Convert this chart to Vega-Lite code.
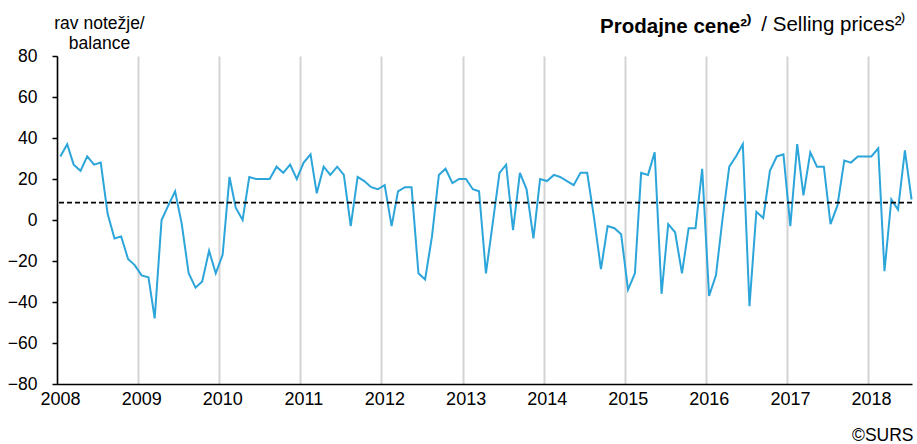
{
  "$schema": "https://vega.github.io/schema/vega-lite/v6.json",
  "width": 855,
  "height": 328,
  "autosize": {"type": "none"},
  "padding": {"left": 57, "top": 56, "right": 5, "bottom": 60},
  "config": {
    "view": {"stroke": null},
    "font": "Liberation Sans",
    "axis": {"labelColor": "black", "titleColor": "black", "labelFont": "Liberation Sans", "titleFont": "Liberation Sans"}
  },
  "title": {
    "text": "Prodajne cene²⁾",
    "anchor": "end",
    "frame": "group",
    "fontSize": 20.5,
    "fontWeight": "bold",
    "color": "black",
    "font": "Liberation Sans",
    "dx": -160,
    "offset": -39,
    "baseline": "alphabetic"
  },
  "layer": [
    {
      "data": {
        "values": [
          {"date": "2008-01-16", "value": 31}, {"date": "2008-02-16", "value": 37}, {"date": "2008-03-16", "value": 27}, {"date": "2008-04-16", "value": 24}, {"date": "2008-05-16", "value": 31}, {"date": "2008-06-16", "value": 27}, {"date": "2008-07-16", "value": 28}, {"date": "2008-08-16", "value": 3}, {"date": "2008-09-16", "value": -9}, {"date": "2008-10-16", "value": -8}, {"date": "2008-11-16", "value": -19}, {"date": "2008-12-16", "value": -22},
          {"date": "2009-01-16", "value": -27}, {"date": "2009-02-16", "value": -28}, {"date": "2009-03-16", "value": -48}, {"date": "2009-04-16", "value": 0}, {"date": "2009-05-16", "value": 7}, {"date": "2009-06-16", "value": 14}, {"date": "2009-07-16", "value": -2}, {"date": "2009-08-16", "value": -26}, {"date": "2009-09-16", "value": -33}, {"date": "2009-10-16", "value": -30}, {"date": "2009-11-16", "value": -15}, {"date": "2009-12-16", "value": -26},
          {"date": "2010-01-16", "value": -17}, {"date": "2010-02-16", "value": 21}, {"date": "2010-03-16", "value": 6}, {"date": "2010-04-16", "value": 0}, {"date": "2010-05-16", "value": 21}, {"date": "2010-06-16", "value": 20}, {"date": "2010-07-16", "value": 20}, {"date": "2010-08-16", "value": 20}, {"date": "2010-09-16", "value": 26}, {"date": "2010-10-16", "value": 23}, {"date": "2010-11-16", "value": 27}, {"date": "2010-12-16", "value": 20},
          {"date": "2011-01-16", "value": 28}, {"date": "2011-02-16", "value": 32}, {"date": "2011-03-16", "value": 13}, {"date": "2011-04-16", "value": 26}, {"date": "2011-05-16", "value": 22}, {"date": "2011-06-16", "value": 26}, {"date": "2011-07-16", "value": 22}, {"date": "2011-08-16", "value": -3}, {"date": "2011-09-16", "value": 21}, {"date": "2011-10-16", "value": 19}, {"date": "2011-11-16", "value": 16}, {"date": "2011-12-16", "value": 15},
          {"date": "2012-01-16", "value": 17}, {"date": "2012-02-16", "value": -3}, {"date": "2012-03-16", "value": 14}, {"date": "2012-04-16", "value": 16}, {"date": "2012-05-16", "value": 16}, {"date": "2012-06-16", "value": -26}, {"date": "2012-07-16", "value": -29}, {"date": "2012-08-16", "value": -8}, {"date": "2012-09-16", "value": 22}, {"date": "2012-10-16", "value": 25}, {"date": "2012-11-16", "value": 18}, {"date": "2012-12-16", "value": 20},
          {"date": "2013-01-16", "value": 20}, {"date": "2013-02-16", "value": 15}, {"date": "2013-03-16", "value": 14}, {"date": "2013-04-16", "value": -26}, {"date": "2013-05-16", "value": -2}, {"date": "2013-06-16", "value": 23}, {"date": "2013-07-16", "value": 27}, {"date": "2013-08-16", "value": -5}, {"date": "2013-09-16", "value": 23}, {"date": "2013-10-16", "value": 15}, {"date": "2013-11-16", "value": -9}, {"date": "2013-12-16", "value": 20},
          {"date": "2014-01-16", "value": 19}, {"date": "2014-02-16", "value": 22}, {"date": "2014-03-16", "value": 21}, {"date": "2014-04-16", "value": 19}, {"date": "2014-05-16", "value": 17}, {"date": "2014-06-16", "value": 23}, {"date": "2014-07-16", "value": 23}, {"date": "2014-08-16", "value": 1}, {"date": "2014-09-16", "value": -24}, {"date": "2014-10-16", "value": -3}, {"date": "2014-11-16", "value": -4}, {"date": "2014-12-16", "value": -7},
          {"date": "2015-01-16", "value": -34}, {"date": "2015-02-16", "value": -26}, {"date": "2015-03-16", "value": 23}, {"date": "2015-04-16", "value": 22}, {"date": "2015-05-16", "value": 33}, {"date": "2015-06-16", "value": -36}, {"date": "2015-07-16", "value": -2}, {"date": "2015-08-16", "value": -6}, {"date": "2015-09-16", "value": -26}, {"date": "2015-10-16", "value": -4}, {"date": "2015-11-16", "value": -4}, {"date": "2015-12-16", "value": 25},
          {"date": "2016-01-16", "value": -37}, {"date": "2016-02-16", "value": -27}, {"date": "2016-03-16", "value": 0}, {"date": "2016-04-16", "value": 26}, {"date": "2016-05-16", "value": 31}, {"date": "2016-06-16", "value": 37}, {"date": "2016-07-16", "value": -42}, {"date": "2016-08-16", "value": 4}, {"date": "2016-09-16", "value": 1}, {"date": "2016-10-16", "value": 24}, {"date": "2016-11-16", "value": 31}, {"date": "2016-12-16", "value": 32},
          {"date": "2017-01-16", "value": -3}, {"date": "2017-02-16", "value": 37}, {"date": "2017-03-16", "value": 12}, {"date": "2017-04-16", "value": 33}, {"date": "2017-05-16", "value": 26}, {"date": "2017-06-16", "value": 26}, {"date": "2017-07-16", "value": -2}, {"date": "2017-08-16", "value": 7}, {"date": "2017-09-16", "value": 29}, {"date": "2017-10-16", "value": 28}, {"date": "2017-11-16", "value": 31}, {"date": "2017-12-16", "value": 31},
          {"date": "2018-01-16", "value": 31}, {"date": "2018-02-16", "value": 35}, {"date": "2018-03-16", "value": -25}, {"date": "2018-04-16", "value": 10}, {"date": "2018-05-16", "value": 5}, {"date": "2018-06-16", "value": 34}, {"date": "2018-07-16", "value": 10}
        ]
      },
      "mark": {"type": "line", "color": "#2ca5da", "strokeWidth": 2},
      "encoding": {
        "x": {
          "field": "date",
          "type": "temporal",
          "scale": {"domain": [{"year": 2008, "month": 1, "date": 1}, {"year": 2018, "month": 7, "date": 18}]},
          "axis": {
            "values": [{"year": 2008}, {"year": 2009}, {"year": 2010}, {"year": 2011}, {"year": 2012}, {"year": 2013}, {"year": 2014}, {"year": 2015}, {"year": 2016}, {"year": 2017}, {"year": 2018}],
            "format": "%Y",
            "grid": true,
            "gridColor": "#d4d4d4",
            "gridWidth": 2,
            "domainColor": "black",
            "domainWidth": 1.5,
            "ticks": false,
            "labelFontSize": 18,
            "labelPadding": 6,
            "labelOffset": 3,
            "labelFlush": false,
            "labelOverlap": false,
            "title": "©SURS",
            "titleFontSize": 17.5,
            "titleFontWeight": "normal",
            "titleAlign": "right",
            "titleBaseline": "alphabetic",
            "titleX": 856,
            "titleY": 56
          }
        },
        "y": {
          "field": "value",
          "type": "quantitative",
          "scale": {"domain": [-80, 80], "nice": false, "zero": false},
          "axis": {
            "orient": "left",
            "values": [-80, -60, -40, -20, 0, 20, 40, 60, 80],
            "grid": false,
            "domainColor": "black",
            "domainWidth": 1.5,
            "tickColor": "black",
            "tickWidth": 1.5,
            "tickSize": 5,
            "labelFontSize": 17.5,
            "labelPadding": 15,
            "title": ["rav notežje/", "balance"],
            "titleAngle": 0,
            "titleAlign": "center",
            "titleBaseline": "alphabetic",
            "titleFontSize": 17.5,
            "titleFontWeight": "normal",
            "titleLineHeight": 20,
            "titleX": 42,
            "titleY": -28
          }
        }
      }
    },
    {
      "data": {"values": [{"average": 8.5}]},
      "mark": {"type": "rule", "color": "black", "strokeWidth": 1.6, "strokeDash": [5, 3]},
      "encoding": {
        "y": {
          "field": "average",
          "type": "quantitative",
          "axis": {
            "orient": "right",
            "labels": false,
            "ticks": false,
            "domain": false,
            "grid": false,
            "title": "/ Selling prices²⁾",
            "titleAngle": 0,
            "titleAlign": "right",
            "titleBaseline": "alphabetic",
            "titleFontSize": 20.5,
            "titleFontWeight": "normal",
            "titleX": -6,
            "titleY": -26
          }
        }
      }
    }
  ],
  "resolve": {"axis": {"y": "independent"}}
}
